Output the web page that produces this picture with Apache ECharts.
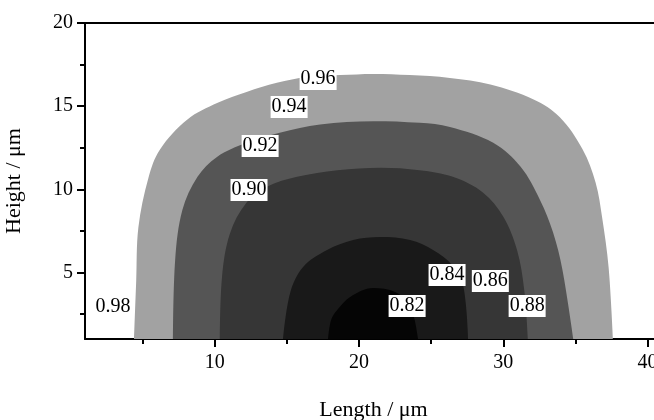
<!DOCTYPE html>
<html lang="en">
<head>
    <title>Contour</title>
    <meta charset="utf-8">
    <style>
        body{margin:0;}
        #container{width: 654px; height: 420px;}
    </style>
</head>
<body>
<div id="container"></div>
<script src="https://cdn.jsdelivr.net/npm/echarts/dist/echarts.min.js"></script>
<script>
// boundary of each filled band as [length, height]
var level096 = [[4.4,1],[4.55,4.5],[4.7,7.7],[5.4,10.7],[6.2,12.4],[8.1,14.2],[10.2,15.2],[12.2,15.85],[14.3,16.4],[16.4,16.75],[18.7,16.87],[21,16.94],[23.5,16.87],[26.3,16.7],[29.1,16.3],[32.1,15.4],[33.9,14.35],[35.5,12.4],[36.4,10.4],[36.85,8.3],[37.3,5.3],[37.6,1]];
var level092 = [[7.1,1],[7.25,5.75],[7.75,8.75],[8.8,10.75],[10.15,11.95],[12.2,12.8],[14.5,13.4],[17.3,13.9],[21,14.1],[24.2,14],[26.3,13.75],[29.3,12.8],[31.2,11.35],[32.55,9.35],[33.45,7.4],[34.1,5.15],[34.85,1]];
var level088 = [[10.35,1],[10.5,4.75],[11.05,7.35],[12.2,9.2],[13.6,10.15],[15.7,10.75],[18.5,11.15],[21.5,11.3],[24.2,11.15],[26.5,10.75],[28.6,9.8],[30,8.35],[30.95,6.35],[31.45,3.95],[31.7,1]];
var level084 = [[14.73,1],[15.22,3.77],[16.12,5.33],[17.78,6.35],[19.59,6.95],[21.46,7.13],[23.54,6.95],[25.13,6.35],[26.45,5.45],[27.21,4.25],[27.56,1]];
var level082 = [[17.85,1],[18.06,2.14],[18.48,2.74],[19.38,3.53],[20.97,4.07],[22.5,3.83],[23.4,3.16],[23.82,2.26],[24.09,1]];

var bandColors = ['#a2a2a2', '#555555', '#363636', '#191919', '#050505'];

var labelText = ['0.96', '0.94', '0.92', '0.90', '0.84', '0.86', '0.82', '0.88', '0.98'];
var labelX = [17.16, 15.15, 13.14, 12.37, 26.1, 29.1, 23.33, 31.65, 2.94];
var labelY = [16.63, 14.95, 12.6, 9.96, 4.85, 4.49, 2.98, 2.98, 2.92];

var xMajor = [10, 20, 30, 40];
var xMinor = [5, 15, 25, 35];
var yMajor = [5, 10, 15, 20];
var yMinor = [2.5, 7.5, 12.5, 17.5];

var font = 'Liberation Serif';
var axisStyle = {color: '#000', width: 2};

var myChart = echarts.init(document.getElementById('container'));

var bands = [level096, level092, level088, level084, level082];
var series = bands.map(function (pts, i) {
    return {
        type: 'line',
        data: pts,
        smooth: 0.35,
        showSymbol: false,
        silent: true,
        lineStyle: {width: 0},
        areaStyle: {color: bandColors[i], opacity: 1, origin: 'start'},
        z: 2 + i
    };
});

series.push({
    type: 'scatter',
    symbolSize: 0,
    z: 20,
    silent: true,
    itemStyle: {opacity: 1},
    data: labelText.map(function (t, i) { return [labelX[i], labelY[i], t]; }),
    label: {
        show: true,
        position: 'inside',
        opacity: 1,
        formatter: function (p) { return p.value[2]; },
        color: '#000',
        fontFamily: font,
        fontSize: 20,
        backgroundColor: '#ffffff',
        padding: [2, 1, 0, 1]
    }
});

var options = {
    animation: false,
    backgroundColor: '#fff',
    grid: {left: 85, top: 23, width: 577, height: 316, containLabel: false, outerBoundsMode: 'none'},
    xAxis: [
        {
            type: 'value', min: 1, max: 41, position: 'bottom',
            name: 'Length / μm', nameLocation: 'middle', nameGap: 60,
            nameTextStyle: {fontFamily: font, fontSize: 22, color: '#000'},
            axisLine: {onZero: false, lineStyle: axisStyle},
            axisTick: {customValues: xMajor, length: 8, lineStyle: axisStyle},
            axisLabel: {customValues: xMajor, fontFamily: font, fontSize: 20, color: '#000', margin: 14},
            splitLine: {show: false}
        },
        {
            type: 'value', min: 1, max: 41, position: 'bottom',
            axisLine: {show: false, onZero: false},
            axisTick: {customValues: xMinor, length: 5, lineStyle: axisStyle},
            axisLabel: {show: false},
            splitLine: {show: false}
        },
        {
            type: 'value', min: 1, max: 41, position: 'top',
            axisLine: {onZero: false, lineStyle: axisStyle},
            axisTick: {show: false},
            axisLabel: {show: false},
            splitLine: {show: false}
        }
    ],
    yAxis: [
        {
            type: 'value', min: 1, max: 20, position: 'left',
            name: 'Height / μm', nameLocation: 'middle', nameGap: 60,
            nameTextStyle: {fontFamily: font, fontSize: 22, color: '#000'},
            axisLine: {onZero: false, lineStyle: axisStyle},
            axisTick: {customValues: yMajor, length: 8, lineStyle: axisStyle},
            axisLabel: {customValues: yMajor, fontFamily: font, fontSize: 20, color: '#000', margin: 12},
            splitLine: {show: false}
        },
        {
            type: 'value', min: 1, max: 20, position: 'left',
            axisLine: {show: false, onZero: false},
            axisTick: {customValues: yMinor, length: 5, lineStyle: axisStyle},
            axisLabel: {show: false},
            splitLine: {show: false}
        }
    ],
    series: series
};

myChart.setOption(options);
</script>
</body>
</html>
